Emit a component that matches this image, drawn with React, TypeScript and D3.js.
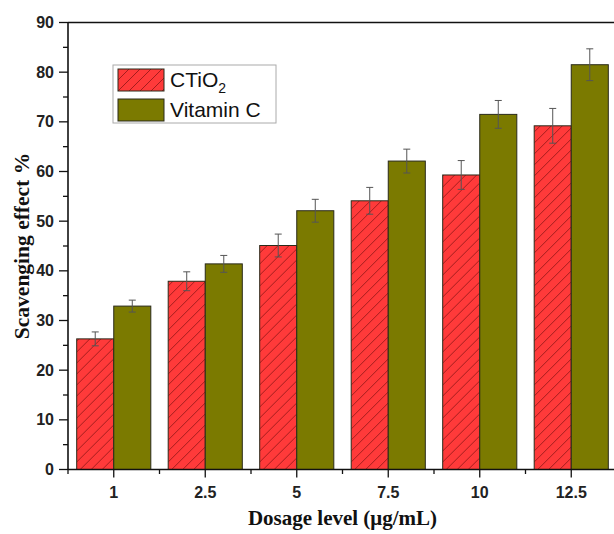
import React from "react";
import * as d3 from "d3";

// Dosage levels (µg/mL) and scavenging effect (%) for each treatment
const dosageLabels = ["1", "2.5", "5", "7.5", "10", "12.5"];
const ctio2Values = [26.3, 37.9, 45.1, 54.1, 59.3, 69.2];
const ctio2Errors = [1.4, 1.9, 2.3, 2.7, 2.9, 3.5];
const vitaminCValues = [32.9, 41.4, 52.1, 62.1, 71.5, 81.5];
const vitaminCErrors = [1.2, 1.7, 2.3, 2.4, 2.8, 3.2];
const yTickValues = [0, 10, 20, 30, 40, 50, 60, 70, 80, 90];
const seriesKeys = ["ctio2", "vitc"];

const WIDTH = 614;
const HEIGHT = 534;
const left = 68;
const right = 617;
const top = 22.5;
const bottom = 469.5;

const sansFont = "'Liberation Sans', Arial, Helvetica, sans-serif";
const serifFont = "'Liberation Serif', 'Times New Roman', Times, serif";

export default function App() {
  const x = d3
    .scaleBand<string>()
    .domain(dosageLabels)
    .range([left, right])
    .paddingInner(0.19)
    .paddingOuter(0.095);
  const xs = d3.scaleBand<string>().domain(seriesKeys).range([0, x.bandwidth()]);
  const y = d3.scaleLinear().domain([0, 90]).range([bottom, top]);

  const minorY = d3.range(5, 90, 10);
  const centers = dosageLabels.map((d) => (x(d) as number) + x.bandwidth() / 2);
  const minorX = [left, ...centers.map((c) => c + x.step() / 2)];

  const rows = dosageLabels.map((d, i) => ({
    label: d,
    bars: [
      { key: "ctio2", value: ctio2Values[i], err: ctio2Errors[i] },
      { key: "vitc", value: vitaminCValues[i], err: vitaminCErrors[i] },
    ],
  }));

  const capHalf = 3.5;

  return (
    <svg
      width={WIDTH}
      height={HEIGHT}
      style={{ position: "absolute", left: 0, top: 0, background: "#fff" }}
    >
      <defs>
        <pattern id="hatch" patternUnits="userSpaceOnUse" width={11} height={11}>
          <rect width={11} height={11} fill="#ff3a3a" />
          <path
            d="M-1,1 L1,-1 M0,11 L11,0 M10,12 L12,10"
            stroke="#9a1a1a"
            strokeWidth={0.9}
          />
        </pattern>
      </defs>

      {/* bars */}
      {rows.map((row) => (
        <g key={row.label} transform={`translate(${x(row.label)},0)`}>
          {row.bars.map((b) => {
            const bx = xs(b.key) as number;
            return (
              <rect
                key={b.key}
                x={bx}
                y={y(b.value)}
                width={xs.bandwidth()}
                height={y(0) - y(b.value)}
                fill={b.key === "ctio2" ? "url(#hatch)" : "#7b7a00"}
                stroke="#2a2a1a"
                strokeWidth={1}
              />
            );
          })}
        </g>
      ))}

      {/* error bars */}
      {rows.map((row) =>
        row.bars.map((b) => {
          const cx = (x(row.label) as number) + (xs(b.key) as number) + xs.bandwidth() / 2;
          const y1 = y(b.value + b.err);
          const y2 = y(b.value - b.err);
          return (
            <g key={row.label + b.key} stroke="#555" strokeWidth={1}>
              <line x1={cx} x2={cx} y1={y1} y2={y2} />
              <line x1={cx - capHalf} x2={cx + capHalf} y1={y1} y2={y1} />
              <line x1={cx - capHalf} x2={cx + capHalf} y1={y2} y2={y2} />
            </g>
          );
        })
      )}

      {/* frame */}
      <g stroke="#111" strokeWidth={1.6} fill="none">
        <line x1={left} x2={right} y1={top} y2={top} />
        <line x1={right} x2={right} y1={top} y2={bottom} />
        <line x1={left} x2={left} y1={top} y2={bottom} />
        <line x1={left} x2={right} y1={bottom} y2={bottom} />
      </g>

      {/* y axis ticks */}
      <g stroke="#111" strokeWidth={1.3}>
        {yTickValues.map((v) => (
          <line key={"my" + v} x1={left - 9} x2={left} y1={y(v)} y2={y(v)} />
        ))}
        {minorY.map((v) => (
          <line key={"ny" + v} x1={left - 5} x2={left} y1={y(v)} y2={y(v)} />
        ))}
      </g>
      <g fontFamily={sansFont} fontWeight="bold" fontSize={16} fill="#222" textAnchor="end">
        {yTickValues.map((v) => (
          <text key={"ty" + v} x={left - 14} y={y(v) + 5.6}>
            {v}
          </text>
        ))}
      </g>

      {/* x axis ticks */}
      <g stroke="#111" strokeWidth={1.3}>
        {centers.map((c, i) => (
          <line key={"mx" + i} x1={c} x2={c} y1={bottom} y2={bottom + 8} />
        ))}
        {minorX.map((c, i) => (
          <line key={"nx" + i} x1={c} x2={c} y1={bottom} y2={bottom + 4.5} />
        ))}
      </g>
      <g fontFamily={sansFont} fontWeight="bold" fontSize={16} fill="#222" textAnchor="middle">
        {dosageLabels.map((d, i) => (
          <text key={"tx" + d} x={centers[i]} y={498}>
            {d}
          </text>
        ))}
      </g>

      {/* axis titles */}
      <text
        x={(left + right) / 2}
        y={525}
        textAnchor="middle"
        fontFamily={serifFont}
        fontWeight="bold"
        fontSize={21}
        fill="#111"
      >
        Dosage level (μg/mL)
      </text>
      <text
        transform={`translate(29,${(top + bottom) / 2}) rotate(-90)`}
        textAnchor="middle"
        fontFamily={serifFont}
        fontWeight="bold"
        fontSize={21.5}
        fill="#111"
      >
        Scavenging effect %
      </text>

      {/* legend */}
      <g>
        <rect x={113} y={65} width={163} height={58} fill="#fff" stroke="#aaa" strokeWidth={1} />
        <rect x={118} y={69} width={46} height={22} fill="url(#hatch)" stroke="#2a2a1a" strokeWidth={1} />
        <rect x={118} y={99} width={46} height={22} fill="#7b7a00" stroke="#2a2a1a" strokeWidth={1} />
        <text x={170} y={87} fontFamily={sansFont} fontSize={21} fill="#111">
          CTiO
          <tspan fontSize={14} dy={6}>
            2
          </tspan>
        </text>
        <text x={170} y={117} fontFamily={sansFont} fontSize={21} fill="#111">
          Vitamin C
        </text>
      </g>
    </svg>
  );
}
